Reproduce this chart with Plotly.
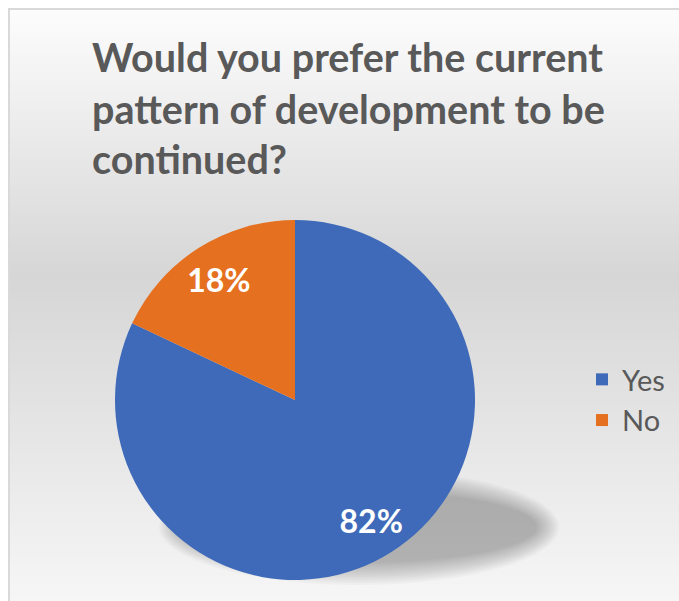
import plotly.graph_objects as go

# ---- data ----
labels = ["Yes", "No"]
values = [82, 18]
colors = ["#3e6ab9", "#e5701f"]
title_lines = [
    "Would you prefer the current",
    "pattern of development to be",
    "continued?",
]

W, H = 679, 601
FONT = "Lato"
GREY_TEXT = "#595959"

# pie placement in pixels (converted to paper fractions below)
PIE_CX, PIE_CY, PIE_R = 295, 400, 180


def px_x(x):
    return x / W


def px_y(y):
    return 1 - y / H


pie_domain = dict(
    x=[px_x(PIE_CX - PIE_R), px_x(PIE_CX + PIE_R)],
    y=[px_y(PIE_CY + PIE_R), px_y(PIE_CY - PIE_R)],
)

fig = go.Figure()

# the filled pie
fig.add_trace(
    go.Pie(
        labels=labels,
        values=values,
        sort=False,
        direction="clockwise",
        rotation=0,
        marker=dict(colors=colors, line=dict(width=0)),
        textinfo="none",
        hoverinfo="label+percent",
        domain=pie_domain,
        showlegend=True,
    )
)

# percentage labels: a transparent ring over the pie so the text sits
# out towards the rim of each slice
fig.add_trace(
    go.Pie(
        labels=labels,
        values=values,
        sort=False,
        direction="clockwise",
        rotation=0,
        hole=0.58,
        marker=dict(colors=["rgba(0,0,0,0)"] * len(values), line=dict(width=0)),
        texttemplate="%{percent:.0%}",
        textposition="inside",
        insidetextorientation="horizontal",
        textfont=dict(family=FONT, size=32, color="white", weight="bold"),
        hoverinfo="skip",
        domain=pie_domain,
        showlegend=False,
    )
)

shapes = []

# chart-area background: soft vertical grey gradient
grad_stops = [(0, 254), (277, 214), (601, 246)]


def grey_at(y):
    for (y0, g0), (y1, g1) in zip(grad_stops, grad_stops[1:]):
        if y0 <= y <= y1:
            t = (y - y0) / (y1 - y0)
            return round(g0 + (g1 - g0) * t)
    return grad_stops[-1][1]


BAND = 4
for y in range(9, H, BAND):
    g = grey_at(y + BAND / 2)
    shapes.append(
        dict(
            type="rect", xref="paper", yref="paper", layer="below",
            x0=px_x(9), x1=1.0, y0=px_y(min(y + BAND + 1, H)), y1=px_y(y),
            fillcolor=f"rgb({g},{g},{g})", line=dict(width=0),
        )
    )

# soft drop shadow beneath the pie
sh_cx, sh_cy = PIE_CX + 64, PIE_CY + 127
sh_rx, sh_ry = 188, 46
layers = 12
for i in range(layers):
    grow = 12 - i * 2
    shapes.append(
        dict(
            type="circle", xref="paper", yref="paper", layer="below",
            x0=px_x(sh_cx - sh_rx - grow), x1=px_x(sh_cx + sh_rx + grow),
            y0=px_y(sh_cy + sh_ry + grow), y1=px_y(sh_cy - sh_ry - grow),
            fillcolor="rgba(0,0,0,0.022)", line=dict(width=0),
        )
    )

# chart frame
shapes.append(
    dict(
        type="rect", xref="paper", yref="paper", layer="above",
        x0=px_x(9), x1=px_x(W + 5), y0=px_y(H + 5), y1=px_y(9),
        line=dict(color="#d9d9d9", width=2), fillcolor="rgba(0,0,0,0)",
    )
)

# title, one annotation per line
annotations = []
line_mid = [56, 108, 158]
for text, ym in zip(title_lines, line_mid):
    annotations.append(
        dict(
            text=text, xref="paper", yref="paper",
            x=px_x(90), y=px_y(ym), xanchor="left", yanchor="middle",
            showarrow=False,
            font=dict(family=FONT, size=39.5, color=GREY_TEXT, weight="bold"),
        )
    )

fig.update_layout(
    width=W,
    height=H,
    autosize=False,
    margin=dict(l=0, r=0, t=0, b=0),
    paper_bgcolor="white",
    plot_bgcolor="rgba(0,0,0,0)",
    shapes=shapes,
    annotations=annotations,
    showlegend=True,
    legend=dict(
        x=px_x(582), y=px_y(400), xanchor="left", yanchor="middle",
        font=dict(family=FONT, size=29, color=GREY_TEXT),
        bgcolor="rgba(0,0,0,0)",
        traceorder="normal",
    ),
)

fig.write_html("out.html")
